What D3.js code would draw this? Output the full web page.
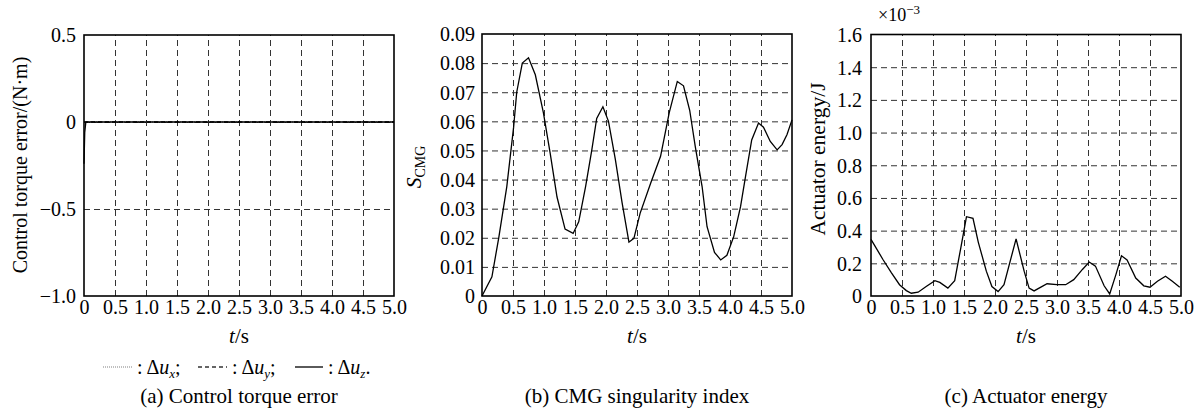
<!DOCTYPE html>
<html lang="en">
  <head>
    <meta charset="utf-8" />
    <title>CMG simulation results</title>
    <script src="https://d3js.org/d3.v7.min.js"></script>
    <style type="text/css">
      body {
        margin: 0;
        background: #fff;
      }
      svg text {
        font-family: "Liberation Serif", "DejaVu Serif", "Times New Roman", serif;
        fill: #000;
      }
      .grid line {
        stroke: #333;
        stroke-width: 1;
        stroke-dasharray: 6, 4;
      }
      .grid path {
        display: none;
      }
      .ticks path,
      .ticks line {
        display: none;
      }
    </style>
  </head>
  <body>
    <script type="text/javascript">
      // time axis ticks shared by all three panels
      var tTicks = [0, 0.5, 1.0, 1.5, 2.0, 2.5, 3.0, 3.5, 4.0, 4.5, 5.0];

      // (a) control torque error
      var tA = [0, 0.012, 0.03, 5.0];
      var duX = [0, 0, 0, 0];
      var duY = [0, 0, 0, 0];
      var duZ = [-0.24, -0.06, 0, 0];
      var yTicksA = [-1.0, -0.5, 0, 0.5];

      // (b) CMG singularity index
      var tB = [0, 0.16, 0.27, 0.4, 0.51, 0.56, 0.65, 0.75, 0.86, 0.99, 1.1, 1.21,
        1.34, 1.47, 1.56, 1.67, 1.77, 1.85, 1.95, 2.04, 2.15, 2.26, 2.37, 2.45,
        2.55, 2.72, 2.88, 3.02, 3.15, 3.25, 3.35, 3.44, 3.55, 3.63, 3.75, 3.85,
        3.95, 4.06, 4.17, 4.25, 4.35, 4.46, 4.54, 4.65, 4.76, 4.84, 4.92, 5.0];
      var sCMG = [0, 0.0066, 0.02, 0.0376, 0.058, 0.07, 0.08, 0.0818, 0.076,
        0.063, 0.049, 0.034, 0.023, 0.0215, 0.0255, 0.0375, 0.05, 0.061, 0.065,
        0.06, 0.047, 0.032, 0.0185, 0.0198, 0.0284, 0.0387, 0.048, 0.063, 0.0737,
        0.0722, 0.0638, 0.0513, 0.0376, 0.0238, 0.015, 0.0124, 0.014, 0.0204,
        0.0307, 0.041, 0.0536, 0.0594, 0.058, 0.0531, 0.0502, 0.052, 0.0555, 0.0605];
      var yTicksB = [0, 0.01, 0.02, 0.03, 0.04, 0.05, 0.06, 0.07, 0.08, 0.09];

      // (c) actuator energy, x10^-3 J
      var tC = [0, 0.06, 0.19, 0.33, 0.46, 0.57, 0.65, 0.76, 0.89, 1.03, 1.11,
        1.24, 1.35, 1.45, 1.54, 1.645, 1.73, 1.86, 1.95, 2.05, 2.145, 2.34, 2.47,
        2.55, 2.63, 2.74, 2.84, 3.0, 3.14, 3.27, 3.41, 3.52, 3.62, 3.76, 3.85,
        3.95, 4.04, 4.13, 4.27, 4.4, 4.5, 4.62, 4.75, 4.86, 4.98];
      var energy = [0.346, 0.308, 0.225, 0.142, 0.069, 0.033, 0.017, 0.023,
        0.058, 0.094, 0.083, 0.048, 0.094, 0.298, 0.485, 0.475, 0.33, 0.152,
        0.058, 0.027, 0.069, 0.35, 0.152, 0.048, 0.031, 0.054, 0.075, 0.069,
        0.069, 0.1, 0.1625, 0.208, 0.183, 0.0625, 0.0125, 0.131, 0.246, 0.221,
        0.11, 0.0625, 0.054, 0.09, 0.121, 0.09, 0.054];
      var yTicksC = [0, 0.2, 0.4, 0.6, 0.8, 1.0, 1.2, 1.4, 1.6];

      var W = 1202,
        H = 412;
      var svg = d3
        .select("body")
        .append("svg")
        .attr("width", W)
        .attr("height", H)
        .attr("font-family", "Liberation Serif, serif");

      var fmtT = function (d) {
        return d === 0 ? "0" : d3.format(".1f")(d);
      };
      var minus = function (s) {
        return s.replace("-", "\u2212");
      };

      function drawPanel(p) {
        var x = d3.scaleLinear().domain([0, 5]).range([p.left, p.right]);
        var y = d3.scaleLinear().domain(p.yDomain).range([p.bottom, p.top]);
        var g = svg.append("g");

        // dashed grid
        g.append("g")
          .attr("class", "grid")
          .attr("transform", "translate(0," + p.bottom + ")")
          .call(
            d3.axisBottom(x)
              .tickValues(tTicks.slice(1, -1))
              .tickSize(-(p.bottom - p.top))
              .tickFormat("")
          );
        g.append("g")
          .attr("class", "grid")
          .attr("transform", "translate(" + p.left + ",0)")
          .call(
            d3.axisLeft(y)
              .tickValues(p.yTicks.slice(1, -1))
              .tickSize(-(p.right - p.left))
              .tickFormat("")
          );

        // tick labels
        var xa = g.append("g")
          .attr("class", "ticks")
          .attr("transform", "translate(0," + p.bottom + ")")
          .call(d3.axisBottom(x).tickValues(tTicks).tickSize(0).tickPadding(4).tickFormat(fmtT));
        xa.attr("font-family", null);
        xa.selectAll("text").style("font-size", "20px").attr("dy", "0.72em");

        var ya = g.append("g")
          .attr("class", "ticks")
          .attr("transform", "translate(" + p.left + ",0)")
          .call(d3.axisLeft(y).tickValues(p.yTicks).tickSize(0).tickPadding(p.pad).tickFormat(p.yFormat));
        ya.attr("font-family", null);
        ya.selectAll("text").style("font-size", "20px").attr("dy", "0.34em");

        // curves
        p.series.forEach(function (s) {
          var line = d3.line()
            .x(function (d, i) { return x(s.t[i]); })
            .y(function (d) { return y(d); });
          g.append("path")
            .datum(s.v)
            .attr("d", line)
            .attr("fill", "none")
            .attr("stroke", s.color || "#000")
            .attr("stroke-width", 1.3)
            .attr("stroke-dasharray", s.dash || null);
        });

        // frame
        g.append("rect")
          .attr("x", p.left)
          .attr("y", p.top)
          .attr("width", p.right - p.left)
          .attr("height", p.bottom - p.top)
          .attr("fill", "none")
          .attr("stroke", "#000")
          .attr("stroke-width", 1.6);

        // x label t/s
        var tl = g.append("text")
          .attr("x", (p.left + p.right) / 2)
          .attr("y", 343)
          .attr("text-anchor", "middle")
          .style("font-size", "21px");
        tl.append("tspan").style("font-style", "italic").text("t");
        tl.append("tspan").text("/s");

        // caption
        g.append("text")
          .attr("x", (p.left + p.right) / 2)
          .attr("y", 403)
          .attr("text-anchor", "middle")
          .style("font-size", "21px")
          .text(p.caption);
        return g;
      }

      var ga = drawPanel({
        left: 84, right: 394, top: 35, bottom: 296,
        yDomain: [-1.0, 0.5], yTicks: yTicksA, pad: 8,
        yFormat: function (d) { return d === 0 ? "0" : minus(d3.format(".1f")(d)); },
        series: [
          { t: tA, v: duX, color: "#999", dash: "1,1" },
          { t: tA, v: duY, dash: "4,3" },
          { t: tA, v: duZ }
        ],
        caption: "(a) Control torque error"
      });
      ga.append("text")
        .attr("transform", "translate(27,165) rotate(-90)")
        .attr("text-anchor", "middle")
        .style("font-size", "20px")
        .text("Control torque error/(N\u00b7m)");

      var gb = drawPanel({
        left: 482, right: 792, top: 34, bottom: 296,
        yDomain: [0, 0.09], yTicks: yTicksB, pad: 7,
        yFormat: function (d) { return d === 0 ? "0" : d3.format(".2f")(d); },
        series: [{ t: tB, v: sCMG }],
        caption: "(b) CMG singularity index"
      });
      var sl = gb.append("text")
        .attr("transform", "translate(421,167) rotate(-90)")
        .attr("text-anchor", "middle")
        .style("font-size", "21.5px");
      sl.append("tspan").style("font-style", "italic").text("S");
      sl.append("tspan").attr("dy", 4).style("font-size", "14px").text("CMG");

      var gc = drawPanel({
        left: 871, right: 1181, top: 34.5, bottom: 296,
        yDomain: [0, 1.6], yTicks: yTicksC, pad: 9,
        yFormat: function (d) { return d === 0 ? "0" : d3.format(".1f")(d); },
        series: [{ t: tC, v: energy }],
        caption: "(c) Actuator energy"
      });
      gc.append("text")
        .attr("transform", "translate(825,159) rotate(-90)")
        .attr("text-anchor", "middle")
        .style("font-size", "21.5px")
        .text("Actuator energy/J");
      var ex = gc.append("text")
        .attr("x", 878)
        .attr("y", 21)
        .style("font-size", "18px");
      ex.append("tspan").text("\u00d710");
      ex.append("tspan").attr("dy", -7).style("font-size", "13px").text("\u22123");

      // legend for panel (a)
      var legendItems = [
        { x0: 103, x1: 132, color: "#aaa", dash: "1,1", sub: "x", end: ";" },
        { x0: 198, x1: 227, color: "#333", dash: "4,3", sub: "y", end: ";" },
        { x0: 295, x1: 323, color: "#000", dash: null, sub: "z", end: "." }
      ];
      var lg = svg.append("g");
      legendItems.forEach(function (d) {
        lg.append("line")
          .attr("x1", d.x0).attr("x2", d.x1)
          .attr("y1", 367).attr("y2", 367)
          .attr("stroke", d.color)
          .attr("stroke-width", 1.3)
          .attr("stroke-dasharray", d.dash);
        var t = lg.append("text")
          .attr("x", d.x1 + 5)
          .attr("y", 374)
          .style("font-size", "20px");
        t.append("tspan").text(": \u0394");
        t.append("tspan").style("font-style", "italic").text("u");
        t.append("tspan").attr("dy", 4).style("font-style", "italic").style("font-size", "13px").text(d.sub);
        t.append("tspan").attr("dy", -4).text(d.end);
      });
    </script>
  </body>
</html>
